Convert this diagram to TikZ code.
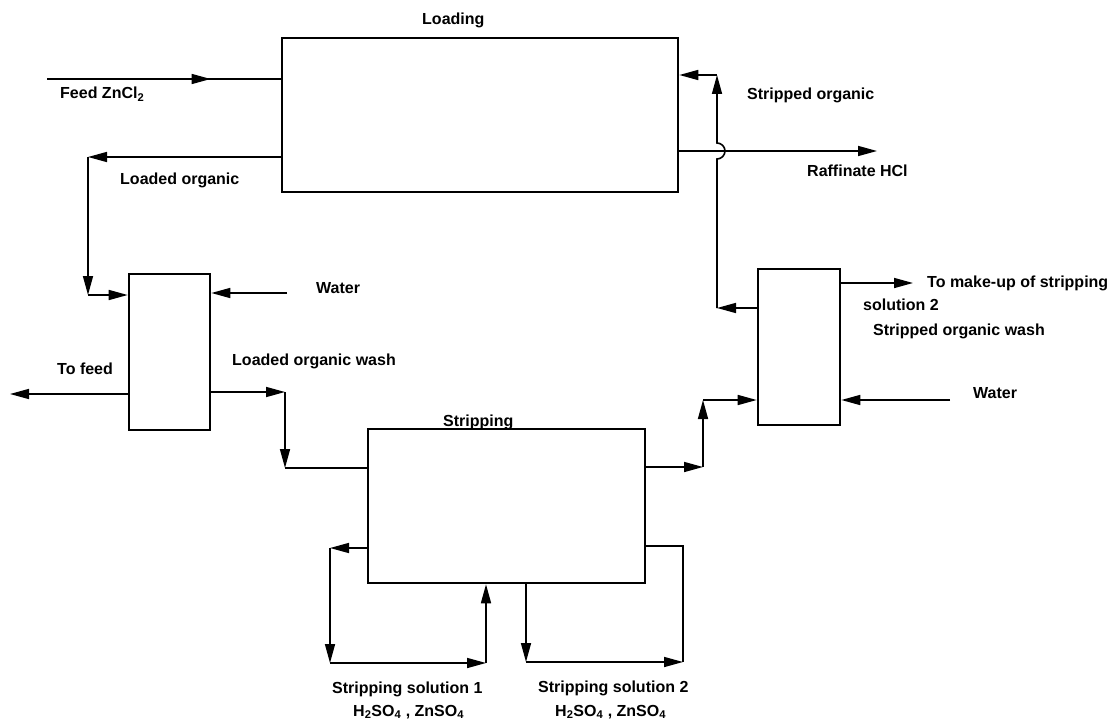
\documentclass[tikz,border=0pt]{standalone}
\usepackage{fontspec}
\setmainfont{Liberation Sans}
\usetikzlibrary{arrows.meta, positioning, decorations.markings}

\begin{document}
\begin{tikzpicture}[x=1pt, y=-1pt,
    box/.style={draw, line width=2.6pt, inner sep=0pt},
    flow/.style={line width=1.6pt},
    arrow/.style={flow, -{Triangle[length=19pt, width=10pt]}},
    midarrow/.style={flow, postaction={decorate},
      decoration={markings, mark=at position #1 with {\arrow{Triangle[length=19pt, width=10pt]}}}},
    label/.style={font=\fontsize{16}{19}\selectfont\bfseries, inner sep=0pt, anchor=base west}
  ]
  \useasboundingbox (0,0) rectangle (1118,722);

  % Units
  \node[box, minimum width=396pt, minimum height=154pt] (loading) at (480,115) {};
  \node[box, minimum width=81pt, minimum height=156pt] (lwash) at (169.5,352) {};
  \node[box, minimum width=277pt, minimum height=154pt] (strip) at (506.5,506) {};
  \node[box, minimum width=82pt, minimum height=156pt] (swash) at (799,347) {};

  % Bends and free ends of the streams
  \coordinate (feedin) at (47,79);
  \coordinate (lo1) at (88,157);
  \coordinate (lo2) at (88,295);
  \coordinate (wl) at (287,293);
  \coordinate (tofeed) at (10,394);
  \coordinate (low1) at (285,392);
  \coordinate (low2) at (285,468);
  \coordinate (sr1) at (703,467);
  \coordinate (sr2) at (703,400);
  \coordinate (wr) at (950,400);
  \coordinate (mk) at (913,283);
  \coordinate (so1) at (717,308);
  \coordinate (so2) at (717,75);
  \coordinate (raf) at (877,151);
  \coordinate (sl1) at (330,548);
  \coordinate (sl2) at (330,663);
  \coordinate (sl3) at (486,663);
  \coordinate (sa1) at (526,662);
  \coordinate (sa2) at (683,662);
  \coordinate (sa3) at (683,546);

  % Loading
  \draw[midarrow=0.7] (feedin) -- (loading.west |- feedin);
  \draw[arrow] (loading.west |- lo1) -- (lo1);
  \draw[arrow] (loading.east |- raf) -- (raf);

  % Loaded organic wash
  \foreach \a/\b in {lo1/lo2, wl/lwash.east |- wl, low1/low2}
    \draw[arrow] (\a) -- (\b);
  \draw[arrow] (lo2) -- (lwash.west |- lo2);
  \draw[arrow] (lwash.west |- tofeed) -- (tofeed);
  \draw[arrow] (lwash.east |- low1) -- (low1);
  \draw[flow] (low2) -- (strip.west |- low2);

  % Stripping and stripped organic wash
  \draw[arrow] (strip.east |- sr1) -- (sr1);
  \draw[arrow] (sr1) -- (sr2);
  \draw[arrow] (sr2) -- (swash.west |- sr2);
  \draw[arrow] (wr) -- (swash.east |- wr);
  \draw[arrow] (swash.east |- mk) -- (mk);
  \draw[arrow] (swash.west |- so1) -- (so1);
  \draw[arrow] (so1) -- ([yshift=-8pt]so1 |- raf) arc[start angle=90, end angle=-90, radius=8] -- (so2);
  \draw[arrow] (so2) -- (loading.east |- so2);

  % Stripping solution loops
  \draw[arrow] (strip.west |- sl1) -- (sl1);
  \foreach \a/\b in {sl1/sl2, sl2/sl3, sa1/sa2}
    \draw[arrow] (\a) -- (\b);
  \draw[arrow] (sl3) -- (strip.south -| sl3);
  \draw[arrow] (strip.south -| sa1) -- (sa1);
  \draw[flow] (sa2) -- (sa3) -- (strip.east |- sa3);

  % Labels
  \node[label] (loadlbl) at (422,25) {Loading};
  \node[label] (feedlbl) at (60,99) {Feed ZnCl\textsubscript{2}};
  \node[label] (lolbl) at (120,185) {Loaded organic};
  \node[label] (wllbl) at (316,293) {Water};
  \node[label] (tflbl) at (57,374) {To feed};
  \node[label] (lowlbl) at (232,365) {Loaded organic wash};
  \node[label] (strlbl) at (443,426) {Stripping};
  \node[label] (solbl) at (747,100) {Stripped organic};
  \node[label] (raflbl) at (807,177) {Raffinate HCl};
  \node[label] (mklbl) at (927,287) {To make-up of stripping};
  \node[label] (mk2lbl) at (863,310) {solution 2};
  \node[label] (sowlbl) at (873,335) {Stripped organic wash};
  \node[label] (wrlbl) at (973,398) {Water};
  \node[label] (ss1lbl) at (332,693) {Stripping solution 1};
  \node[label] (ss2lbl) at (538,692) {Stripping solution 2};
  \node[label] (ac1lbl) at (353,716) {H\textsubscript{2}SO\textsubscript{4} , ZnSO\textsubscript{4}};
  \node[label] (ac2lbl) at (555,716) {H\textsubscript{2}SO\textsubscript{4} , ZnSO\textsubscript{4}};
\end{tikzpicture}
\end{document}
